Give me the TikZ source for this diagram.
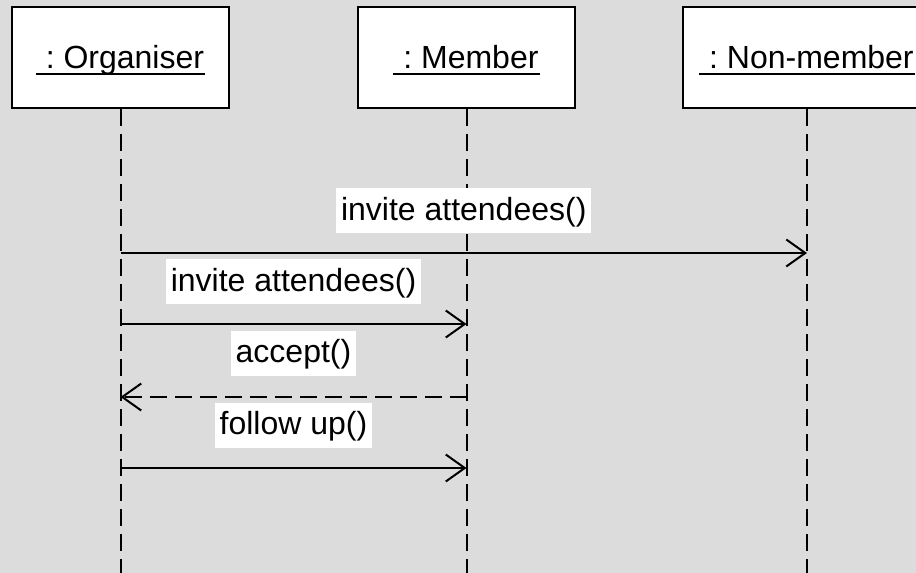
\documentclass[tikz,border=0pt]{standalone}
\usepackage{fontspec}
\setmainfont{Liberation Sans}
\usetikzlibrary{arrows.meta}
\definecolor{canvas}{RGB}{220,220,220}
\frenchspacing
\begin{document}
\begin{tikzpicture}[x=1pt, y=-1pt, line width=2pt,
  every node/.style={font=\fontsize{32}{38}\selectfont},
  lifebox/.style={draw=black, fill=white, minimum height=101pt, inner sep=0pt},
  objname/.style={anchor=base, inner sep=0pt, text depth=5pt},
  lifeline/.style={dash pattern=on 17pt off 8pt},
  msg/.style={-{Straight Barb[length=19pt, width=27pt]}},
  reply/.style={msg, dash pattern=on 17pt off 8pt},
  lbl/.style={fill=white, inner xsep=5pt, inner ysep=0pt, text height=32pt, text depth=13pt},
  ]
  % canvas
  \fill[canvas] (0,0) rectangle (916,573);
  \useasboundingbox (0,0) rectangle (916,573);
  \clip (0,0) rectangle (916,573);
  \coordinate (bottom) at (0,573);

  % object boxes
  \node[lifebox, minimum width=217pt] (org) at (120.5,57.5) {};
  \node[lifebox, minimum width=217pt] (mem) at (466.5,57.5) {};
  \node[lifebox, minimum width=248pt] (non) at (807,57.5) {};

  % underlined object names
  \node[objname] (orgt) at (120.5,68) {\ : Organiser};
  \node[objname] (memt) at (466.5,68) {\ : Member};
  \node[objname] (nont) at (807,68) {\ : Non-member};
  \foreach \t in {orgt, memt, nont}
    \draw[line width=1.6pt] (\t.south west) -- (\t.south east);

  % lifelines
  \foreach \b in {org, mem, non} {
    \coordinate (\b end) at (\b.south |- bottom);
    \draw[lifeline] (\b.south) -- (\b end);
  }

  % message anchor points on the lifelines
  \path (org.south) ++(0,144) coordinate (o1);
  \path (non.south) ++(0,144) coordinate (n1);
  \path (org.south) ++(0,215) coordinate (o2);
  \path (mem.south) ++(0,215) coordinate (m2);
  \path (org.south) ++(0,288) coordinate (o3);
  \path (mem.south) ++(0,288) coordinate (m3);
  \path (org.south) ++(0,359) coordinate (o4);
  \path (mem.south) ++(0,359) coordinate (m4);

  % messages
  \draw[msg] (o1) -- (n1) node[lbl, midway, yshift=42.5pt] {invite attendees()};
  \draw[msg] (o2) -- (m2) node[lbl, midway, yshift=42.5pt] {invite attendees()};
  \draw[reply] (m3) -- (o3) node[lbl, midway, yshift=44pt] {accept()};
  \draw[msg] (o4) -- (m4) node[lbl, midway, yshift=43pt] {follow up()};
\end{tikzpicture}
\end{document}
